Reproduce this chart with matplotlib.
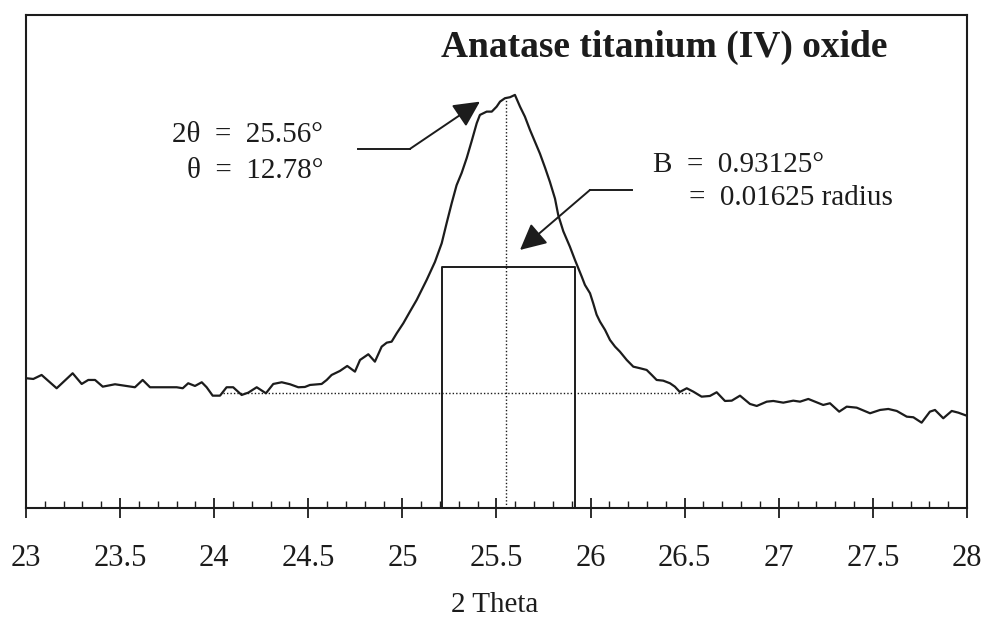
import numpy as np
import matplotlib
matplotlib.use('Agg')
import matplotlib.pyplot as plt

# XRD scan of anatase TiO2 (intensity in arbitrary units)
two_theta = [23.002, 23.039, 23.083, 23.163, 23.248, 23.296, 23.331, 23.367, 23.408, 23.473,
             23.535, 23.579, 23.620, 23.659, 23.748, 23.801, 23.833, 23.862, 23.898, 23.934,
             23.960, 23.992, 24.031, 24.066, 24.101, 24.146, 24.181, 24.226, 24.275, 24.314,
             24.359, 24.403, 24.447, 24.482, 24.509, 24.571, 24.598, 24.624, 24.668, 24.707,
             24.748, 24.775, 24.819, 24.854, 24.890, 24.917, 24.943, 24.970, 25.005, 25.040,
             25.076, 25.129, 25.173, 25.209, 25.235, 25.262, 25.288, 25.315, 25.342, 25.368,
             25.395, 25.412, 25.448, 25.475, 25.501, 25.519, 25.545, 25.572, 25.598, 25.625,
             25.651, 25.678, 25.705, 25.731, 25.758, 25.784, 25.811, 25.828, 25.855, 25.890,
             25.917, 25.935, 25.953, 25.970, 25.997, 26.014, 26.032, 26.050, 26.077, 26.103,
             26.130, 26.156, 26.192, 26.227, 26.263, 26.298, 26.325, 26.351, 26.386, 26.422,
             26.448, 26.474, 26.511, 26.546, 26.590, 26.634, 26.670, 26.714, 26.750, 26.794,
             26.847, 26.883, 26.936, 26.971, 27.024, 27.077, 27.113, 27.157, 27.201, 27.236,
             27.272, 27.321, 27.361, 27.414, 27.485, 27.538, 27.582, 27.627, 27.680, 27.715,
             27.759, 27.803, 27.830, 27.874, 27.919, 27.954, 27.998]
intensity = [129.7, 129.0, 133.0, 119.7, 134.7, 124.0, 128.0, 128.0, 121.3, 123.7,
             122.0, 120.7, 128.0, 120.7, 120.7, 120.7, 119.7, 124.7, 122.0, 125.7,
             120.7, 112.3, 112.3, 120.7, 120.7, 113.0, 115.3, 120.7, 114.7, 124.0,
             125.7, 123.7, 120.7, 121.0, 123.0, 124.0, 128.0, 133.0, 137.0, 142.0,
             136.3, 148.0, 153.7, 146.3, 161.3, 165.3, 166.3, 174.7, 184.7, 196.3,
             208.0, 228.0, 246.0, 264.7, 284.7, 304.7, 322.7, 335.0, 350.0, 366.7,
             384.7, 393.0, 396.3, 396.3, 401.3, 406.3, 409.7, 410.7, 413.0, 401.3,
             391.3, 378.0, 366.0, 354.3, 340.3, 326.0, 309.3, 293.0, 276.7, 261.3,
             248.0, 239.7, 231.3, 223.0, 214.7, 204.7, 193.3, 186.3, 178.0, 168.0,
             161.3, 156.3, 148.0, 141.3, 139.7, 138.0, 133.0, 128.0, 127.3, 124.7,
             121.3, 116.0, 119.7, 116.3, 111.3, 112.0, 115.7, 107.0, 107.3, 112.3,
             104.0, 102.0, 106.3, 107.0, 105.3, 107.3, 106.3, 109.0, 105.7, 103.0,
             104.7, 96.3, 101.3, 100.3, 94.7, 98.0, 99.0, 97.0, 91.3, 90.7,
             85.3, 96.3, 98.0, 89.7, 97.0, 95.3, 92.3]

peak_pos = 25.549          # dotted line at the peak maximum
peak_top = 408.0
half_max = 241.3           # top of the FWHM box
fwhm_left, fwhm_right = 25.209, 25.919
baseline = 114.7
baseline_from, baseline_to = 24.047, 26.528

xticks = [23, 23.5, 24, 24.5, 25, 25.5, 26, 26.5, 27, 27.5, 28]
xtick_labels = ['23', '23.5', '24', '24.5', '25', '25.5', '26', '26.5', '27', '27.5', '28']

ink = '#1c1c1c'
serif = ['Liberation Serif', 'DejaVu Serif']

fig = plt.figure(figsize=(9.84, 6.21), dpi=100)
ax = fig.add_axes([0.0264, 0.182, 0.9563, 0.794])

ax.plot(two_theta, intensity, color=ink, lw=1.6, zorder=3)

# FWHM box and guide lines
ax.plot([fwhm_left, fwhm_left, fwhm_right, fwhm_right], [0, half_max, half_max, 0],
        color=ink, lw=1.4)
ax.plot([peak_pos, peak_pos], [0, peak_top], color=ink, lw=1.0, ls=(0, (1, 1.5)))
ax.plot([baseline_from, baseline_to], [baseline, baseline], color=ink, lw=1.0, ls=(0, (1, 1.5)))

# arrows
arrow = dict(arrowstyle='-|>,head_length=0.8,head_width=0.4', color=ink, lw=1.4,
             mutation_scale=20, shrinkA=0, shrinkB=0)
ax.plot([24.764, 25.040], [359, 359], color=ink, lw=1.4)
ax.annotate('', xy=(25.412, 406.3), xytext=(25.040, 359), arrowprops=arrow)
ax.plot([26.218, 25.997], [318, 318], color=ink, lw=1.4)
ax.annotate('', xy=(25.625, 258), xytext=(25.997, 318), arrowprops=arrow)

ax.text(24.578, 373, '2θ  =  25.56°', ha='right', va='center', fontsize=21, family=serif, color=ink)
ax.text(24.578, 337, 'θ  =  12.78°', ha='right', va='center', fontsize=21, family=serif, color=ink)
ax.text(26.332, 343, 'B  =  0.93125°', ha='left', va='center', fontsize=21, family=serif, color=ink)
ax.text(26.523, 310, '=  0.01625 radius', ha='left', va='center', fontsize=21, family=serif, color=ink)

ax.text(0.916, 0.935, 'Anatase titanium (IV) oxide', transform=ax.transAxes, ha='right', va='center',
        fontsize=27, fontweight='bold', family=serif, color=ink)

ax.set_xlim(23, 28)
ax.set_ylim(0, 493)
ax.set_xticks(xticks)
ax.set_xticklabels(xtick_labels, family=serif, fontsize=22, color=ink)
ax.set_xticks(np.arange(23, 28.01, 0.1), minor=True)
ax.set_yticks([])
ax.tick_params(axis='x', which='major', direction='inout', length=14, width=1.3, pad=19, colors=ink)
ax.tick_params(axis='x', which='minor', direction='in', length=5, width=1.0, colors=ink)
for s in ax.spines.values():
    s.set_color(ink)
    s.set_linewidth(1.5)

fig.text(0.503, 0.005, '2 Theta', ha='center', va='bottom', fontsize=21, family=serif, color=ink)

fig.savefig('out.png', dpi=100)
